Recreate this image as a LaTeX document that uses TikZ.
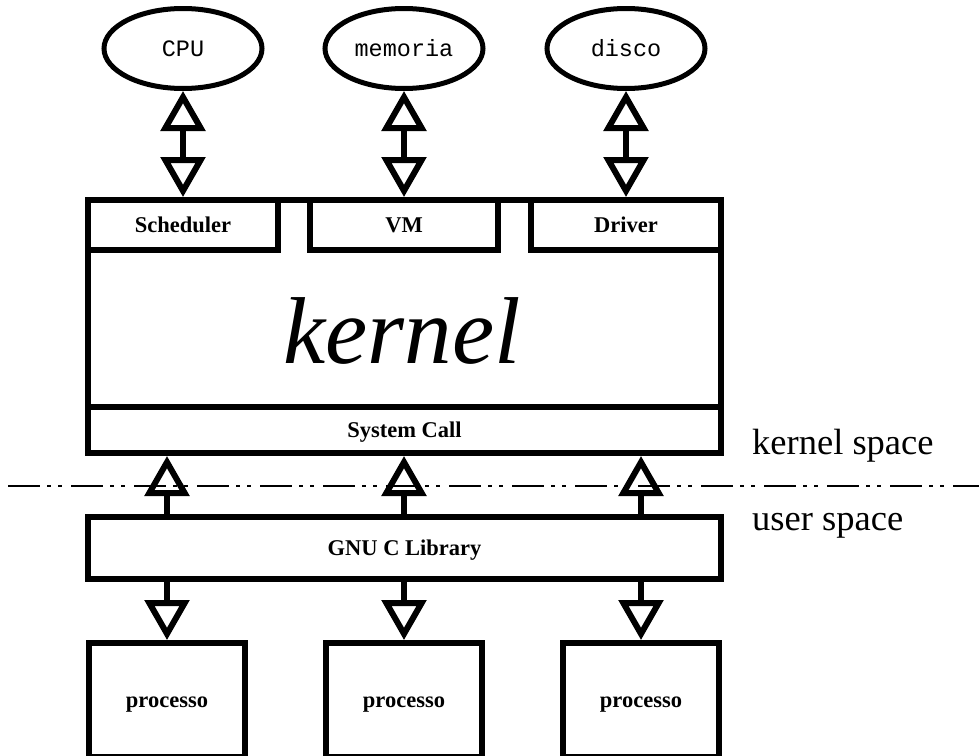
\documentclass[tikz,border=0pt]{standalone}
\usepackage{fontspec}
\setmainfont{Liberation Serif}
\newfontfamily\monofont{Liberation Mono}
\usetikzlibrary{shapes.geometric,arrows.meta}
\tikzstyle{risorsa}=[draw, ellipse, line width=5pt, inner sep=0pt,
  minimum width=158pt, minimum height=80pt,
  font=\monofont\fontsize{23.5}{23.5}\selectfont]
\tikzstyle{modulo}=[draw, line width=6pt, inner sep=0pt, minimum height=50pt,
  text height=15pt, text depth=1pt,
  font=\bfseries\fontsize{22.5}{22.5}\selectfont]
\tikzstyle{strato}=[modulo, minimum width=633pt]
\tikzstyle{processo}=[modulo, minimum width=156pt, minimum height=114pt]
\tikzstyle{freccia}=[line width=6pt, line join=miter,
  -{Triangle[open, length=40pt, width=44pt]}]
\tikzstyle{doppia}=[freccia,
  {Triangle[open, length=40pt, width=44pt]}-{Triangle[open, length=40pt, width=44pt]}]
\tikzstyle{spazio}=[anchor=west, inner sep=0pt, font=\fontsize{36.5}{36.5}\selectfont]
\newcommand{\risorsa}[2]{node (r#1) [risorsa] {#2}}
\newcommand{\processo}[1]{node (p#1) [processo] {processo}}

\begin{document}
\begin{tikzpicture}[x=1pt,y=-1pt]
  \useasboundingbox (0,0) rectangle (979,755);
  \clip (0,0) rectangle (979,755);
  % risorse hardware
  \path (183,48.5) \risorsa{1}{CPU};
  \path (404,48.5) \risorsa{2}{memoria};
  \path (626,48.5) \risorsa{3}{disco};
  % kernel
  \node (kern) [strato, minimum height=253pt] at (404.5,326.5) {};
  \node (knome) at (402,331) {\fontsize{95}{95}\selectfont\itshape kernel};
  \node (sched) [modulo, minimum width=190pt] at (183,225) {Scheduler};
  \node (vm) [modulo, minimum width=188pt] at (404,225) {VM};
  \node (drv) [modulo, minimum width=190pt] at (626,225) {Driver};
  \node (sysc) [strato, minimum height=46pt] at (404.5,430) {System Call};
  % user space
  \node (glibc) [strato, minimum height=62pt] at (404.5,548) {GNU C Library};
  \path (167,700) \processo{1};
  \path (404,700) \processo{2};
  \path (641,700) \processo{3};

  \draw [doppia] (r1.south) -- (sched.north);
  \draw [doppia] (r2.south) -- (vm.north);
  \draw [doppia] (r3.south) -- (drv.north);
  \foreach \i in {1,2,3} {
    \draw [freccia] (glibc.north -| p\i) -- (sysc.south -| p\i);
    \draw [freccia] (glibc.south -| p\i) -- (p\i.north);
  }

  % separatore kernel/user
  \coordinate (sepA) at (8,486);
  \coordinate (sepB) at (979,486);
  \draw [line width=2pt, dash pattern=on 32pt off 7pt on 4pt off 7pt on 4pt off 9pt]
    (sepA) -- (sepB);
  \node (ks) [spazio] at (752,446) {kernel space};
  \node (us) [spazio] at (752,526) {user space};
\end{tikzpicture}
\end{document}
